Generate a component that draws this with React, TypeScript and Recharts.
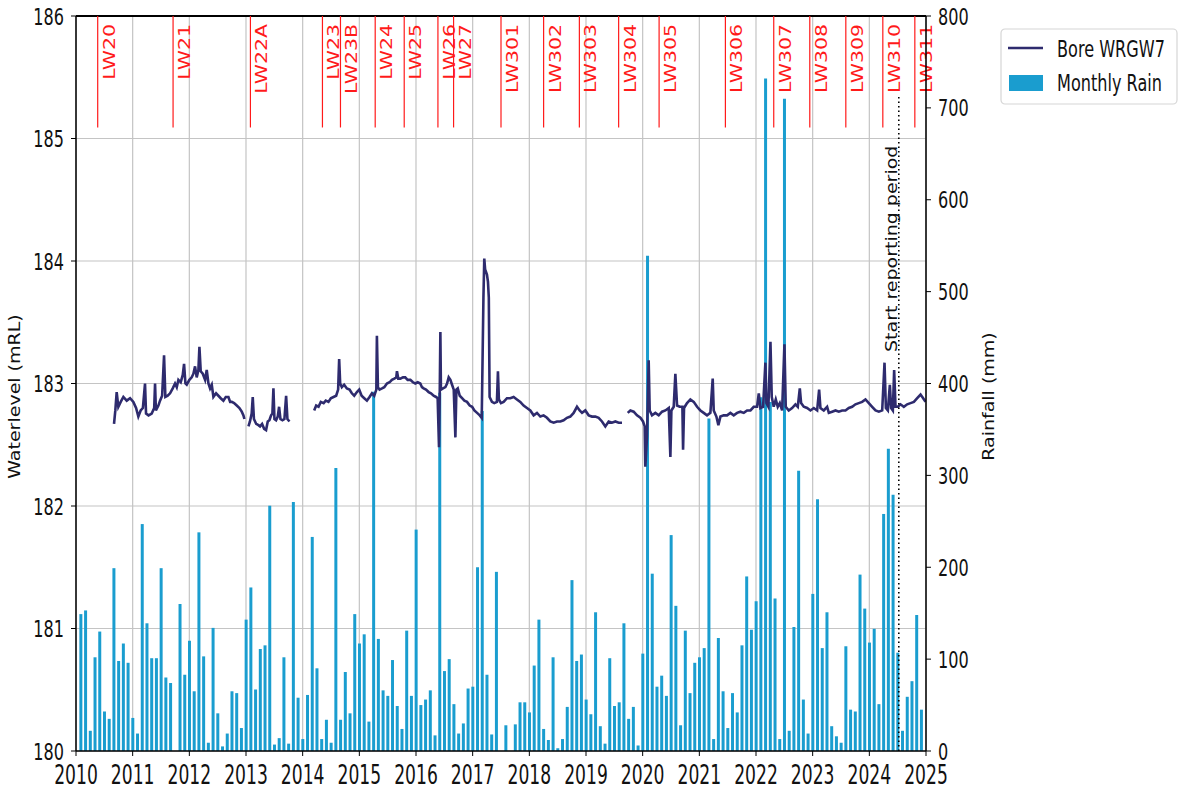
import React from 'react';
import { ComposedChart, Bar, Line, XAxis, YAxis, CartesianGrid, ReferenceLine, Legend } from 'recharts';

// ---------- Data ----------
const years = [2010, 2011, 2012, 2013, 2014, 2015, 2016, 2017, 2018, 2019, 2020, 2021, 2022, 2023, 2024];
const rain2010 = [149, 153, 22, 102, 130, 43, 35, 199, 98, 117, 96, 36];
const rain2011 = [19, 247, 139, 101, 101, 199, 80, 74, 0, 160, 83, 120];
const rain2012 = [65, 238, 103, 9, 134, 41, 5, 19, 65, 63, 25, 143];
const rain2013 = [178, 67, 111, 115, 267, 7, 14, 102, 8, 271, 58, 13];
const rain2014 = [61, 233, 90, 13, 34, 9, 308, 34, 86, 41, 149, 117];
const rain2015 = [127, 32, 391, 122, 66, 60, 99, 49, 24, 131, 60, 241];
const rain2016 = [50, 56, 66, 17, 390, 87, 100, 51, 19, 30, 68, 70];
const rain2017 = [200, 370, 83, 18, 195, 0, 28, 0, 29, 53, 53, 42];
const rain2018 = [93, 143, 24, 12, 102, 3, 13, 48, 186, 98, 105, 56];
const rain2019 = [40, 151, 27, 8, 101, 49, 53, 139, 35, 48, 6, 106];
const rain2020 = [539, 193, 70, 82, 60, 235, 158, 28, 131, 63, 96, 102];
const rain2021 = [112, 362, 13, 123, 65, 25, 63, 42, 115, 190, 132, 163];
const rain2022 = [385, 732, 380, 166, 13, 710, 22, 135, 305, 56, 19, 171];
const rain2023 = [274, 112, 151, 27, 16, 9, 114, 45, 43, 192, 155, 118];
const rain2024 = [133, 51, 258, 329, 279, 107, 22, 59, 76, 148, 45];
const rainByYear = [rain2010, rain2011, rain2012, rain2013, rain2014, rain2015, rain2016, rain2017,
  rain2018, rain2019, rain2020, rain2021, rain2022, rain2023, rain2024];

// Bore WRGW7 water level (decimal year, mRL)
const levelSeg1: [number, number][] = [
  [2010.671, 182.67], [2010.694, 182.78], [2010.718, 182.93], [2010.747, 182.81], [2010.789, 182.85],
  [2010.836, 182.89], [2010.895, 182.86], [2010.954, 182.88], [2011.012, 182.85], [2011.06, 182.80],
  [2011.10, 182.73], [2011.141, 182.78], [2011.18, 182.80], [2011.218, 183.00], [2011.236, 182.755],
  [2011.28, 182.74], [2011.336, 182.755], [2011.38, 182.80], [2011.395, 183.00], [2011.41, 182.78],
  [2011.454, 182.82], [2011.483, 182.86], [2011.52, 182.90], [2011.554, 183.23], [2011.577, 182.89],
  [2011.618, 182.90], [2011.66, 182.92], [2011.707, 182.96], [2011.748, 183.00], [2011.778, 182.97],
  [2011.807, 183.03], [2011.848, 183.01], [2011.884, 183.07], [2011.907, 183.16], [2011.931, 183.00],
  [2011.954, 182.99], [2012.001, 183.03], [2012.042, 183.05], [2012.072, 183.08], [2012.101, 183.14],
  [2012.13, 183.05], [2012.16, 183.11], [2012.178, 183.30], [2012.201, 183.10], [2012.237, 183.08],
  [2012.278, 183.03], [2012.307, 183.11], [2012.337, 183.00], [2012.366, 182.96], [2012.396, 182.99],
  [2012.425, 182.89], [2012.472, 182.92], [2012.513, 182.90], [2012.554, 182.88], [2012.601, 182.86],
  [2012.643, 182.89], [2012.69, 182.89], [2012.72, 182.85], [2012.749, 182.85], [2012.79, 182.84],
  [2012.837, 182.82], [2012.884, 182.80], [2012.925, 182.77], [2012.955, 182.74], [2012.972, 182.71],
];
const levelSeg2: [number, number][] = [
  [2013.043, 182.65], [2013.07, 182.69], [2013.10, 182.755], [2013.119, 182.89], [2013.14, 182.71],
  [2013.18, 182.67], [2013.22, 182.66], [2013.248, 182.65], [2013.284, 182.67], [2013.32, 182.63],
  [2013.354, 182.62], [2013.384, 182.69], [2013.413, 182.70], [2013.443, 182.74], [2013.466, 182.755],
  [2013.484, 182.96], [2013.502, 182.71], [2013.531, 182.70], [2013.56, 182.73], [2013.584, 182.81],
  [2013.608, 182.71], [2013.643, 182.70], [2013.678, 182.71], [2013.708, 182.90], [2013.731, 182.71],
  [2013.767, 182.69],
];
const levelSeg3: [number, number][] = [
  [2014.203, 182.78], [2014.238, 182.82], [2014.28, 182.81], [2014.32, 182.85], [2014.37, 182.84],
  [2014.408, 182.86], [2014.455, 182.85], [2014.497, 182.88], [2014.544, 182.89], [2014.591, 182.90],
  [2014.626, 182.95], [2014.644, 183.20], [2014.662, 183.00], [2014.691, 182.97], [2014.732, 182.99],
  [2014.78, 182.96], [2014.827, 182.95], [2014.868, 182.92], [2014.91, 182.90], [2014.957, 182.93],
  [2014.998, 182.95], [2015.04, 182.90], [2015.087, 182.88], [2015.134, 182.86], [2015.18, 182.89],
  [2015.222, 182.92], [2015.263, 182.90], [2015.30, 182.95], [2015.31, 183.39], [2015.328, 182.97],
  [2015.357, 182.95], [2015.40, 182.96], [2015.44, 182.97], [2015.487, 183.00], [2015.534, 183.01],
  [2015.575, 183.03], [2015.617, 183.04], [2015.652, 183.05], [2015.664, 183.10], [2015.687, 183.04],
  [2015.723, 183.04], [2015.77, 183.05], [2015.81, 183.05], [2015.852, 183.03], [2015.90, 183.03],
  [2015.946, 183.01], [2015.987, 183.00], [2016.03, 183.01], [2016.076, 183.00], [2016.105, 182.97],
  [2016.135, 182.96], [2016.176, 182.95], [2016.223, 182.93], [2016.264, 182.92], [2016.311, 182.90],
  [2016.353, 182.89], [2016.382, 182.88], [2016.406, 182.48], [2016.418, 182.88], [2016.43, 183.42],
  [2016.44, 182.95], [2016.477, 182.96], [2016.518, 182.97], [2016.548, 183.00], [2016.577, 183.05],
  [2016.607, 183.03], [2016.636, 182.99], [2016.666, 182.95], [2016.695, 182.56], [2016.713, 182.95],
  [2016.737, 182.96], [2016.772, 182.90], [2016.813, 182.88], [2016.854, 182.86], [2016.90, 182.85],
  [2016.948, 182.82], [2016.99, 182.81], [2017.03, 182.78], [2017.078, 182.76], [2017.125, 182.74],
  [2017.16, 182.72], [2017.19, 183.70], [2017.205, 184.02], [2017.22, 183.93], [2017.252, 183.89],
  [2017.27, 183.83], [2017.285, 183.70], [2017.299, 182.89], [2017.34, 182.85], [2017.381, 182.84],
  [2017.428, 182.85], [2017.446, 183.10], [2017.463, 182.87], [2017.499, 182.84], [2017.546, 182.85],
  [2017.605, 182.88], [2017.664, 182.88], [2017.723, 182.89], [2017.781, 182.87], [2017.84, 182.85],
  [2017.899, 182.82], [2017.958, 182.80], [2018.017, 182.78], [2018.076, 182.74], [2018.135, 182.76],
  [2018.194, 182.73], [2018.252, 182.74], [2018.311, 182.72], [2018.37, 182.69], [2018.429, 182.68],
  [2018.488, 182.69], [2018.547, 182.69], [2018.605, 182.70], [2018.664, 182.72], [2018.723, 182.73],
  [2018.782, 182.76], [2018.841, 182.81], [2018.888, 182.78], [2018.93, 182.76], [2018.988, 182.78],
  [2019.047, 182.74], [2019.106, 182.73], [2019.165, 182.73], [2019.223, 182.72], [2019.282, 182.69],
  [2019.341, 182.65], [2019.40, 182.69], [2019.459, 182.68], [2019.518, 182.69], [2019.577, 182.68],
  [2019.635, 182.68],
];
const levelSeg4: [number, number][] = [
  [2019.736, 182.76], [2019.783, 182.78], [2019.841, 182.77], [2019.90, 182.74], [2019.96, 182.72],
  [2020.006, 182.69], [2020.036, 182.65], [2020.047, 182.32], [2020.077, 182.57], [2020.106, 183.19],
  [2020.124, 182.78], [2020.165, 182.74], [2020.224, 182.76], [2020.283, 182.74], [2020.342, 182.77],
  [2020.401, 182.78], [2020.46, 182.80], [2020.489, 182.40], [2020.507, 182.78], [2020.548, 182.81],
  [2020.577, 183.08], [2020.607, 182.82], [2020.654, 182.81], [2020.701, 182.81], [2020.713, 182.46],
  [2020.73, 182.80], [2020.783, 182.84], [2020.842, 182.87], [2020.901, 182.85], [2020.96, 182.81],
  [2021.019, 182.78], [2021.077, 182.76], [2021.136, 182.74], [2021.195, 182.76], [2021.236, 183.04],
  [2021.254, 182.78], [2021.301, 182.73], [2021.336, 182.66], [2021.372, 182.73], [2021.43, 182.74],
  [2021.49, 182.74], [2021.548, 182.76], [2021.607, 182.74], [2021.666, 182.76], [2021.725, 182.77],
  [2021.784, 182.76], [2021.843, 182.78], [2021.902, 182.78], [2021.96, 182.81], [2022.019, 182.81],
  [2022.049, 182.92], [2022.078, 182.80], [2022.125, 182.81], [2022.166, 183.17], [2022.184, 182.84],
  [2022.219, 182.81], [2022.255, 183.34], [2022.278, 182.89], [2022.313, 182.81], [2022.349, 182.87],
  [2022.384, 182.81], [2022.42, 182.84], [2022.461, 182.78], [2022.502, 183.32], [2022.525, 182.81],
  [2022.578, 182.78], [2022.637, 182.80], [2022.696, 182.83], [2022.737, 182.81], [2022.773, 182.96],
  [2022.796, 182.84], [2022.843, 182.81], [2022.902, 182.80], [2022.961, 182.78], [2023.02, 182.80],
  [2023.079, 182.78], [2023.114, 182.95], [2023.137, 182.80], [2023.196, 182.78], [2023.255, 182.81],
  [2023.285, 182.76], [2023.344, 182.77], [2023.403, 182.78], [2023.461, 182.77], [2023.52, 182.78],
  [2023.579, 182.78], [2023.638, 182.80], [2023.697, 182.81], [2023.755, 182.83], [2023.814, 182.84],
  [2023.873, 182.85], [2023.932, 182.87], [2023.991, 182.84], [2024.05, 182.81], [2024.109, 182.78],
  [2024.168, 182.77], [2024.227, 182.78], [2024.268, 183.17], [2024.292, 182.80], [2024.327, 182.78],
  [2024.362, 182.99], [2024.385, 182.80], [2024.415, 182.78], [2024.438, 183.11], [2024.462, 182.81],
  [2024.503, 182.81], [2024.55, 182.83], [2024.609, 182.81], [2024.668, 182.83], [2024.727, 182.84],
  [2024.786, 182.85], [2024.845, 182.88], [2024.904, 182.91], [2024.95, 182.88], [2024.992, 182.85],
];

const lwNames = ['LW20', 'LW21', 'LW22A', 'LW23', 'LW23B', 'LW24', 'LW25', 'LW26', 'LW27', 'LW301', 'LW302',
  'LW303', 'LW304', 'LW305', 'LW306', 'LW307', 'LW308', 'LW309', 'LW310', 'LW311'];
const lwYears = [2010.383, 2011.713, 2013.078, 2014.349, 2014.667, 2015.28, 2015.792, 2016.387, 2016.663,
  2017.5, 2018.252, 2018.883, 2019.576, 2020.29, 2021.46, 2022.313, 2022.949, 2023.585, 2024.238, 2024.803];
const lwBottom = 185.09;
const reportStart = 2024.52;
const reportLineTop = 185.35;

const xTicks = [2010, 2011, 2012, 2013, 2014, 2015, 2016, 2017, 2018, 2019, 2020, 2021, 2022, 2023, 2024, 2025];
const levelTicks = [180, 181, 182, 183, 184, 185, 186];
const rainTicks = [0, 100, 200, 300, 400, 500, 600, 700, 800];

// ---------- Derived tables ----------
const rainData = rainByYear.flatMap((arr, yi) => arr.map((v, m) => ({ t: years[yi] + (m + 1) / 12, rain: v })));
const gap = (a: [number, number][], b: [number, number][]) => ({ t: (a[a.length - 1][0] + b[0][0]) / 2, level: null });
const toPts = (s: [number, number][]) => s.map(([t, level]) => ({ t, level }));
const levelData = [
  ...toPts(levelSeg1), gap(levelSeg1, levelSeg2),
  ...toPts(levelSeg2), gap(levelSeg2, levelSeg3),
  ...toPts(levelSeg3), gap(levelSeg3, levelSeg4),
  ...toPts(levelSeg4),
];

const FONT = 'DejaVu Sans';
const LINE_COLOR = '#2e2b6e';
const BAR_COLOR = '#1a9dcf';

const XTick = (props: any) => {
  const { x, y, payload } = props;
  return (
    <text transform={`translate(${x},${y + 26}) scale(0.66,1)`} textAnchor="middle" fontSize={26} fontFamily={FONT} fill="#111">
      {payload.value}
    </text>
  );
};
const LeftTick = (props: any) => {
  const { x, y, payload } = props;
  return (
    <text transform={`translate(${x - 5},${y + 8.5}) scale(0.7,1)`} textAnchor="end" fontSize={23} fontFamily={FONT} fill="#111">
      {payload.value}
    </text>
  );
};
const RightTick = (props: any) => {
  const { x, y, payload } = props;
  return (
    <text transform={`translate(${x + 5},${y + 8.5}) scale(0.7,1)`} textAnchor="start" fontSize={23} fontFamily={FONT} fill="#111">
      {payload.value}
    </text>
  );
};

const rotText = (x: number, y: number, s: string, anchor: string, size: number, sx: number, fill: string) => (
  <text transform={`translate(${x},${y}) scale(${sx},1) rotate(-90)`} textAnchor={anchor} fontSize={size} fontFamily={FONT} fill={fill}>
    {s}
  </text>
);

const LegendBox = () => (
  <svg width={180} height={78} style={{ display: 'block' }}>
    <rect x={1} y={1} width={176} height={75} rx={4} fill="#fff" stroke="#d6d6d6" strokeWidth={1.2} />
    <line x1={8} x2={43} y1={20} y2={20} stroke={LINE_COLOR} strokeWidth={2.5} />
    <text transform="translate(57,29) scale(0.7,1)" fontSize={23} fontFamily={FONT} fill="#111">Bore WRGW7</text>
    <rect x={9} y={47} width={34} height={16} fill={BAR_COLOR} />
    <text transform="translate(57,63) scale(0.7,1)" fontSize={23} fontFamily={FONT} fill="#111">Monthly Rain</text>
  </svg>
);

export default function App() {
  return (
    <div style={{ position: 'absolute', left: 0, top: 0, width: 1179, height: 791, background: '#fff', fontFamily: FONT }}>
      <ComposedChart width={1179} height={791} data={rainData} margin={{ top: 16, right: 13, bottom: 0, left: 0 }}>
        <CartesianGrid yAxisId="left" stroke="#c4c4c4" strokeWidth={1.2} />
        <XAxis
          dataKey="t" type="number" domain={[2010, 2025]} ticks={xTicks} interval={0} allowDataOverflow
          height={40} tickSize={5} tick={<XTick />} axisLine={{ stroke: '#000', strokeWidth: 1.5 }} tickLine={{ stroke: '#000' }}
        />
        <XAxis xAxisId="line" dataKey="t" type="number" domain={[2010, 2025]} allowDataOverflow hide />
        <YAxis
          yAxisId="left" domain={[180, 186]} ticks={levelTicks} interval={0} width={76} tickSize={5} tick={<LeftTick />}
          axisLine={{ stroke: '#000', strokeWidth: 1.5 }} tickLine={{ stroke: '#000' }}
          label={{ content: (p: any) => rotText((p.viewBox?.x ?? 0) + 20, (p.viewBox?.y ?? 0) + (p.viewBox?.height ?? 0) / 2 + 13, 'Waterlevel (mRL)', 'middle', 19, 0.85, '#111') }}
        />
        <YAxis
          yAxisId="right" orientation="right" domain={[0, 800]} ticks={rainTicks} interval={0} width={60} tickSize={5} tick={<RightTick />}
          axisLine={{ stroke: '#000', strokeWidth: 1.5 }} tickLine={{ stroke: '#000' }}
          label={{ content: (p: any) => rotText((p.viewBox?.x ?? 0) + 68, (p.viewBox?.y ?? 0) + (p.viewBox?.height ?? 0) / 2 + 13, 'Rainfall (mm)', 'middle', 19, 0.85, '#111') }}
        />
        <Bar yAxisId="right" dataKey="rain" fill={BAR_COLOR} barSize={3} isAnimationActive={false} name="Monthly Rain" />
        <Line
          xAxisId="line" yAxisId="left" data={levelData} dataKey="level" type="linear" stroke={LINE_COLOR} strokeWidth={2.6}
          dot={false} activeDot={false} connectNulls={false} isAnimationActive={false} name="Bore WRGW7"
        />
        <ReferenceLine yAxisId="left" y={186} stroke="#000" strokeWidth={2.2} />
        {lwNames.map((name, i) => (
          <ReferenceLine
            key={name} yAxisId="left"
            segment={[{ x: lwYears[i], y: lwBottom }, { x: lwYears[i], y: 186 }]}
            stroke="#ff1a1a" strokeWidth={1.2}
            label={{ content: (p: any) => rotText((p.viewBox?.x ?? 0) + 17, (p.viewBox?.y ?? 0) + 8, name, 'end', 20.5, 0.8, '#ff1a1a') }}
          />
        ))}
        <ReferenceLine
          yAxisId="left"
          segment={[{ x: reportStart, y: 180 }, { x: reportStart, y: reportLineTop }]}
          stroke="#000" strokeWidth={1.6} strokeDasharray="1.5 3"
          label={{ content: (p: any) => rotText((p.viewBox?.x ?? 0) - 2, (p.viewBox?.y ?? 0) + 50, 'Start reporting period', 'end', 19, 0.85, '#111') }}
        />
        <Legend
          layout="vertical" align="right" verticalAlign="top"
          content={() => <LegendBox />}
          wrapperStyle={{ position: 'absolute', left: 1000, top: 28, width: 180, height: 78 }}
        />
      </ComposedChart>
    </div>
  );
}
